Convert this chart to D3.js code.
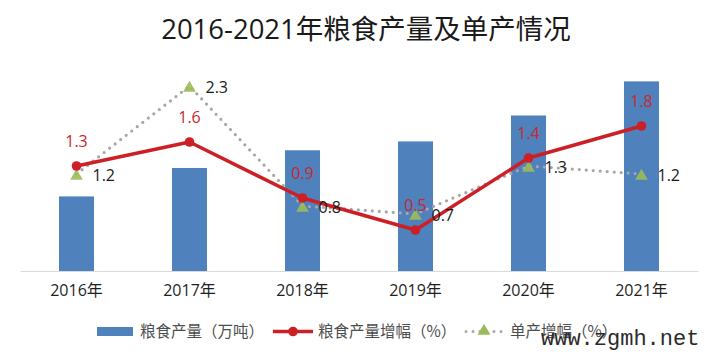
<!DOCTYPE html>
<html><head><meta charset="utf-8">
<script src="https://cdn.jsdelivr.net/npm/d3@7"></script>
<style>
html,body{margin:0;padding:0;background:#fff;}
svg{display:block;}
</style></head>
<body>
<svg id="c" width="720" height="358"></svg>
<script>
const categories = ["2016年","2017年","2018年","2019年","2020年","2021年"];
const grainOutput = [3000, 3045, 3073, 3087, 3128, 3182];      // 粮食产量（万吨） — estimated, unlabeled
const grainGrowth = [1.3, 1.6, 0.9, 0.5, 1.4, 1.8];            // 粮食产量增幅（%）
const yieldGrowth = [1.2, 2.3, 0.8, 0.7, 1.3, 1.2];            // 单产增幅（%）
const seriesNames = ["粮食产量（万吨）","粮食产量增幅（%）","单产增幅（%）"];
const titleText = "2016-2021年粮食产量及单产情况";

const svg = d3.select("#c");
const font = "'Open Sans','Noto Sans CJK SC',sans-serif";
const blue = "#4f81bd", red = "#cc1f26", green = "#9bbb59", gray = "#a6a6a6";

const x = d3.scaleBand().domain(categories).range([20, 698])
  .paddingInner(0.69).paddingOuter(0.345);
const yBar = d3.scaleLinear().domain([2882, 3200]).range([271, 70]);
const yPct = d3.scaleLinear().domain([0, 3]).range([270, 30]);

// title
svg.append("text").attr("x", 366).attr("y", 39).attr("text-anchor", "middle")
  .attr("font-family", font).attr("font-size", 27.5).attr("fill", "#1a1a1a")
  .text(titleText);

// bars
svg.append("g").selectAll("rect").data(grainOutput).join("rect")
  .attr("x", (d,i) => x(categories[i])).attr("width", x.bandwidth())
  .attr("y", d => yBar(d)).attr("height", d => yBar.range()[0] - yBar(d))
  .attr("fill", blue);

// x axis
const xAxis = d3.axisBottom(x).tickSize(0).tickPadding(14);
const ax = svg.append("g").attr("transform", "translate(0,271)").call(xAxis);
ax.select(".domain").attr("stroke", "#d9d9d9").attr("stroke-width", 1.2);
ax.selectAll("text").attr("font-family", font).attr("font-size", 16).attr("fill", "#1f1f1f");

const cx = (d,i) => x(categories[i]) + x.bandwidth()/2;

// yield growth dotted line
const lineY = d3.line().x(cx).y(d => yPct(d));
svg.append("path").datum(yieldGrowth).attr("d", lineY)
  .attr("fill", "none").attr("stroke", gray).attr("stroke-width", 3.2)
  .attr("stroke-linecap", "round").attr("stroke-dasharray", "0 7");

// grain growth line
svg.append("path").datum(grainGrowth).attr("d", lineY)
  .attr("fill", "none").attr("stroke", red).attr("stroke-width", 3.5)
  .attr("stroke-linejoin", "round");

// triangles
const tri = d3.symbol().type(d3.symbolTriangle).size(70);
svg.append("g").selectAll("path").data(yieldGrowth).join("path")
  .attr("d", tri).attr("transform", (d,i) => `translate(${cx(d,i)},${yPct(d)+2})`)
  .attr("fill", green).attr("opacity", 0.9);

// circles
svg.append("g").selectAll("circle").data(grainGrowth).join("circle")
  .attr("cx", cx).attr("cy", d => yPct(d)).attr("r", 4.8).attr("fill", red);

// labels
svg.append("g").selectAll("text").data(grainGrowth).join("text")
  .attr("x", cx).attr("y", d => yPct(d) - 19).attr("text-anchor", "middle")
  .attr("font-family", font).attr("font-size", 16).attr("fill", "#c8282e")
  .text(d => d.toFixed(1));
svg.append("g").selectAll("text").data(yieldGrowth).join("text")
  .attr("x", (d,i) => cx(d,i) + 16).attr("y", d => yPct(d) + 7).attr("text-anchor", "start")
  .attr("font-family", font).attr("font-size", 16).attr("fill", "#1a1a1a")
  .text(d => d.toFixed(1));

// legend
const lg = svg.append("g").attr("font-family", "'Noto Sans CJK SC',sans-serif").attr("font-size", 15.5).attr("fill", "#4d4d4d");
lg.append("rect").attr("x", 97).attr("y", 327).attr("width", 36).attr("height", 9).attr("fill", blue);
lg.append("text").attr("x", 140).attr("y", 337).text(seriesNames[0]);
lg.append("line").attr("x1", 273).attr("x2", 313).attr("y1", 331.5).attr("y2", 331.5)
  .attr("stroke", red).attr("stroke-width", 3.5);
lg.append("circle").attr("cx", 293).attr("cy", 331.5).attr("r", 4.8).attr("fill", red);
lg.append("text").attr("x", 318).attr("y", 337).text(seriesNames[1]);
lg.append("line").attr("x1", 466).attr("x2", 502).attr("y1", 331.5).attr("y2", 331.5)
  .attr("stroke", gray).attr("stroke-width", 3).attr("stroke-linecap", "round").attr("stroke-dasharray", "0 7");
lg.append("path").attr("d", tri).attr("transform", "translate(484,331)").attr("fill", green);
lg.append("text").attr("x", 510).attr("y", 337).text(seriesNames[2]);

// watermark
svg.append("text").attr("x", 541).attr("y", 345)
  .attr("font-family", "'Liberation Mono','DejaVu Sans Mono',monospace").attr("font-size", 22)
  .attr("fill", "#2b2b2b").text("www.zgmh.net");
</script>
</body></html>
